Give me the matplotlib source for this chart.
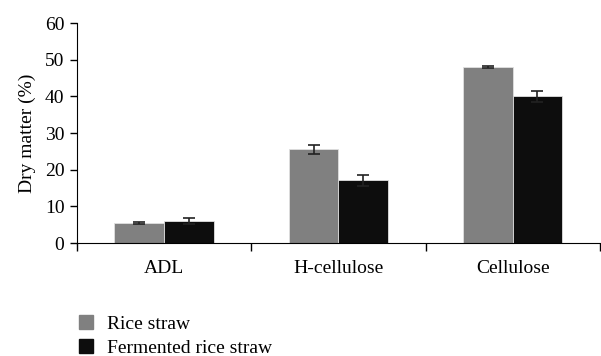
import numpy as np
import matplotlib
matplotlib.use("Agg")
import matplotlib.pyplot as plt
from matplotlib.patches import Patch

categories = ["ADL", "H-cellulose", "Cellulose"]
rice = [5.5, 25.6, 48.1]
rice_err = [0.3, 1.3, 0.2]
fermented = [6.0, 17.1, 40.1]
fermented_err = [0.9, 1.5, 1.5]

plt.rcParams["font.family"] = ["Liberation Serif", "DejaVu Serif"]
plt.rcParams["font.size"] = 14

fig = plt.figure(figsize=(6.01, 3.56), dpi=100)
ax = fig.add_axes([0.128, 0.317, 0.87, 0.618])

x = np.arange(len(categories))
w = 0.285
err_kw = dict(ecolor="#222222", capsize=4, elinewidth=1.2, capthick=1.2)
ax.bar(x - w / 2, rice, w, yerr=rice_err, color="#808080",
       edgecolor="#e0e0e0", linewidth=0.6, error_kw=err_kw)
ax.bar(x + w / 2, fermented, w, yerr=fermented_err, color="#0d0d0d",
       edgecolor="#e0e0e0", linewidth=0.6, error_kw=err_kw)

ax.set_xlim(-0.5, 2.5)
ax.set_ylim(0, 60)
ax.set_yticks(range(0, 61, 10))
ax.set_ylabel("Dry matter (%)", fontsize=14, labelpad=6)

ax.set_xticks(x)
ax.set_xticklabels(categories)
ax.tick_params(axis="x", length=0, pad=12)
ax.set_xticks([-0.5, 0.5, 1.5, 2.5], minor=True)
ax.tick_params(axis="x", which="minor", length=6, direction="out", width=1)
ax.tick_params(axis="y", length=5, direction="out", width=1, pad=4)

for s in ["top", "right"]:
    ax.spines[s].set_visible(False)

handles = [Patch(color="#808080", label="Rice straw"),
           Patch(color="#0d0d0d", label="Fermented rice straw")]
fig.legend(handles=handles, loc="upper left", bbox_to_anchor=(0.131, 0.114),
           frameon=False, handlelength=0.72, handleheight=0.72,
           handletextpad=0.72, labelspacing=0.32, borderaxespad=0,
           borderpad=0, fontsize=14)

fig.savefig("out.png", dpi=100)
